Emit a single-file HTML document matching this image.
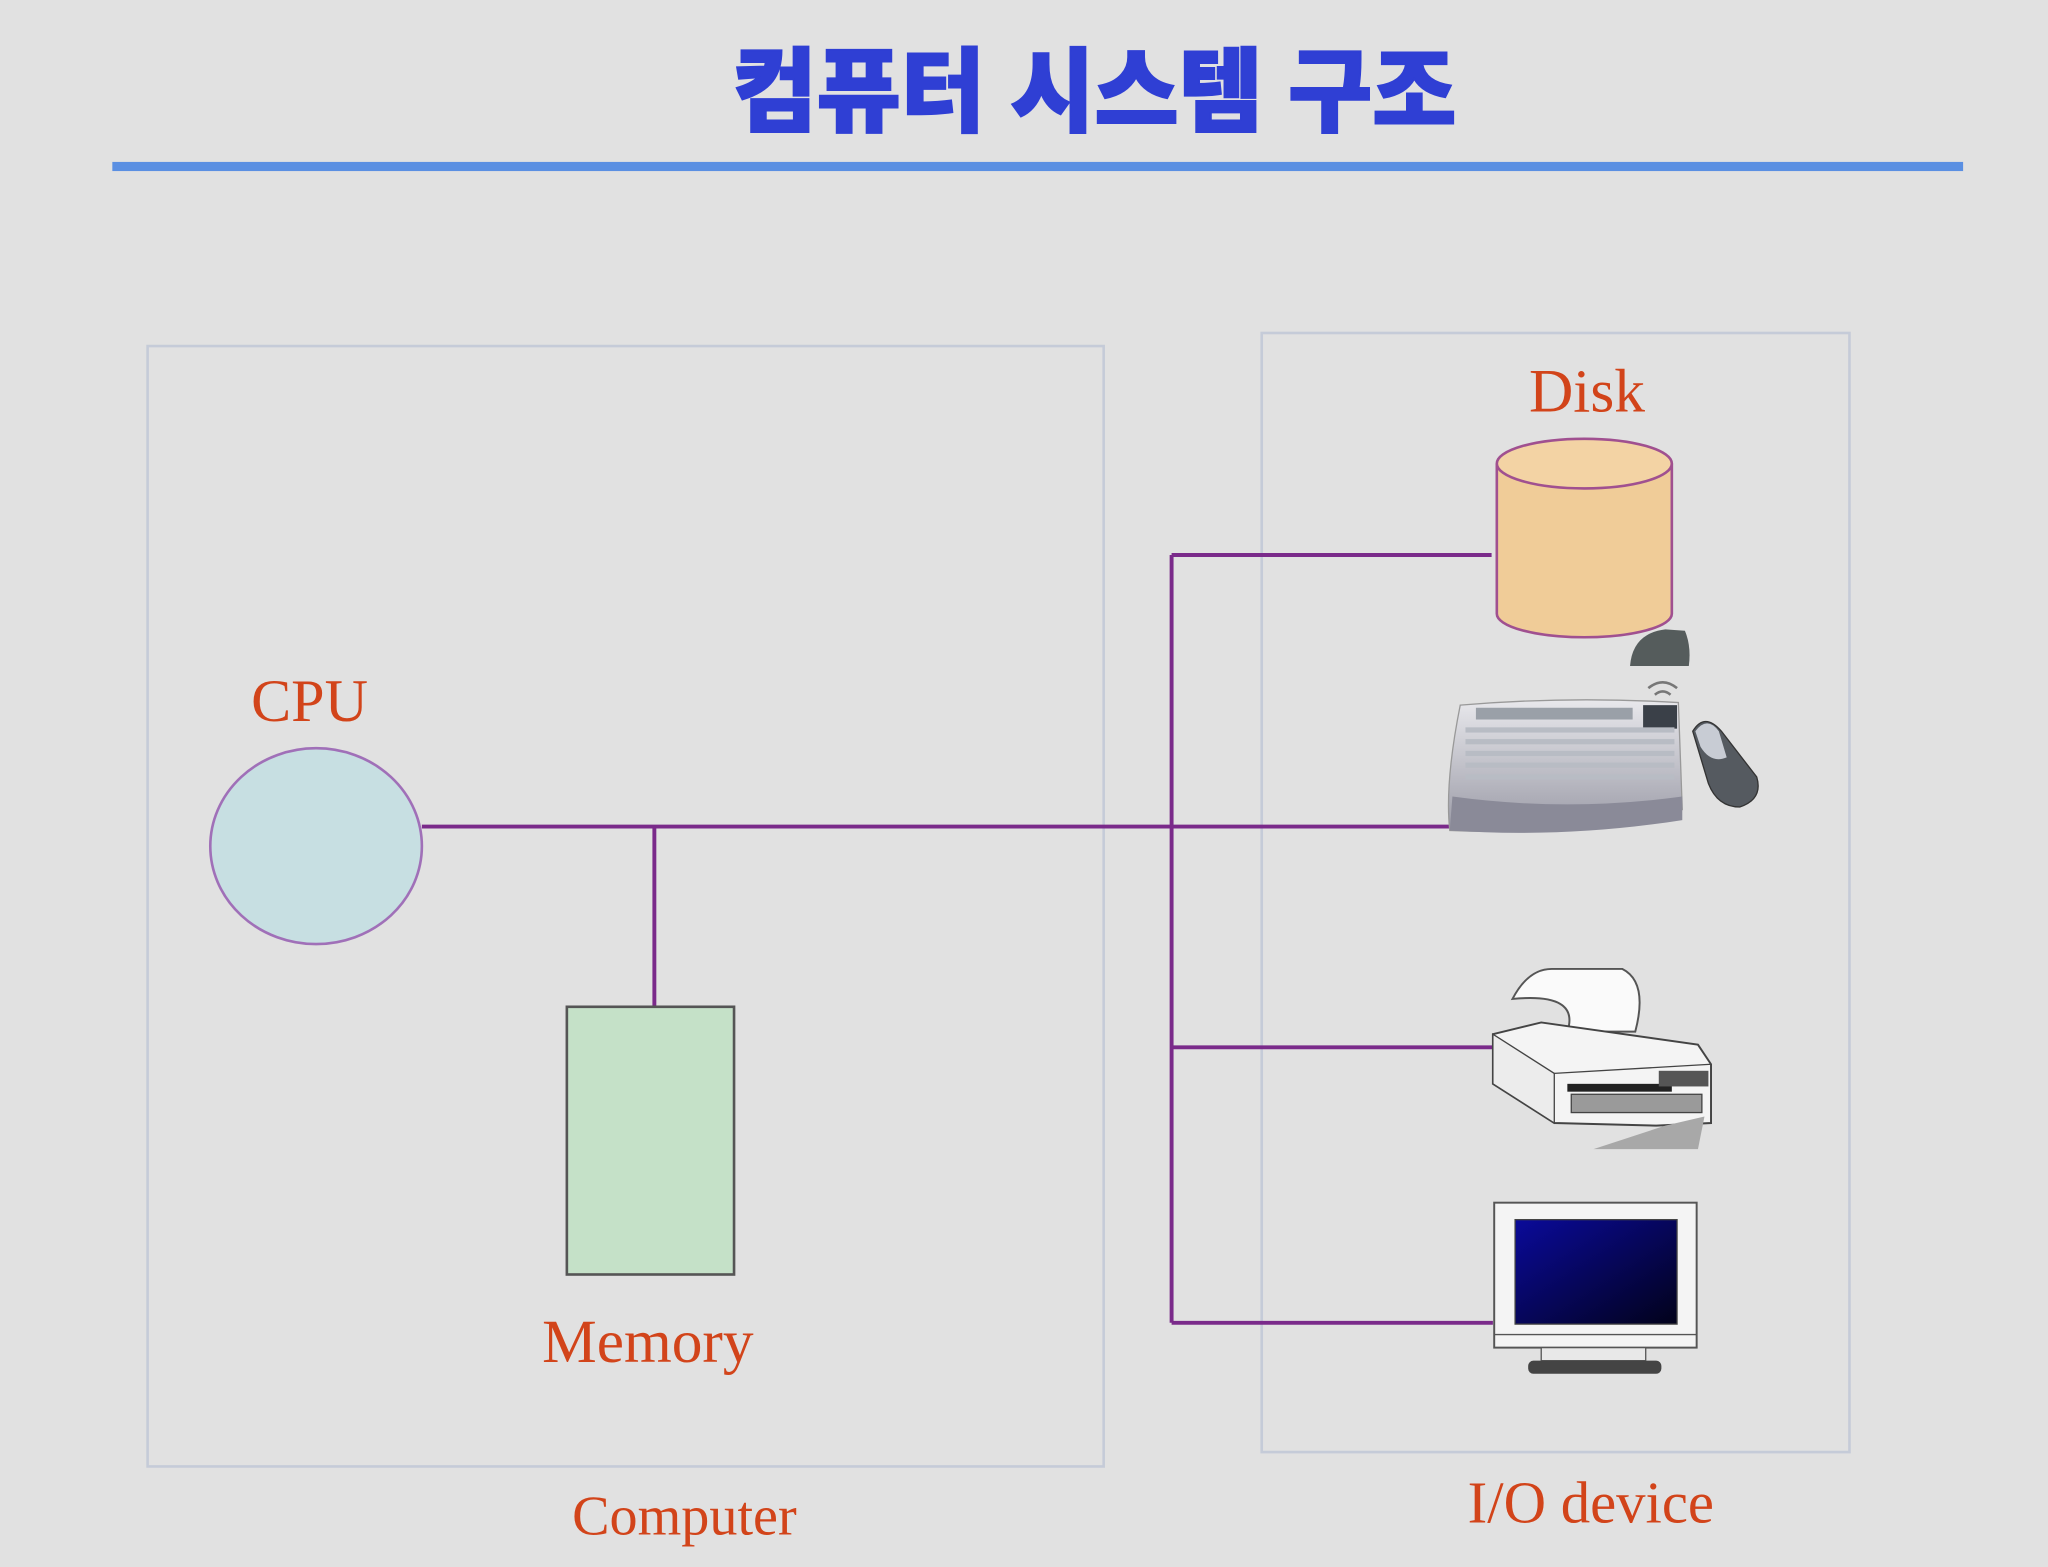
<!DOCTYPE html>
<html><head><meta charset="utf-8"><style>
html,body{margin:0;padding:0;background:#e1e1e1;}
svg{display:block;}
</style></head><body>
<svg width="2048" height="1567" viewBox="0 0 1568 1200" preserveAspectRatio="none" xmlns="http://www.w3.org/2000/svg">
<defs>
<linearGradient id="scr" x1="0" y1="0" x2="1" y2="1"><stop offset="0" stop-color="#0a0a9a"/><stop offset="1" stop-color="#02021a"/></linearGradient>
<linearGradient id="kb" x1="0" y1="0" x2="0" y2="1"><stop offset="0" stop-color="#e8e8ec"/><stop offset="1" stop-color="#9a9aa6"/></linearGradient>
</defs>
<rect width="1568" height="1200" fill="#e1e1e1"/>
<text x="838" y="95" text-anchor="middle" font-family="'Liberation Sans','Noto Sans CJK KR','NanumGothic',sans-serif" font-weight="900" font-size="70" fill="#2f3fd4" stroke="#2f3fd4" stroke-width="1.5">컴퓨터 시스템 구조</text>
<rect x="86" y="124" width="1417" height="7" fill="#5a8fe2"/>
<rect x="113" y="265" width="732" height="858" fill="none" stroke="#c5cbd8" stroke-width="2"/>
<rect x="966" y="255" width="450" height="857" fill="none" stroke="#c5cbd8" stroke-width="2"/>
<g font-family="'Liberation Serif',serif" fill="#d2441a">
<text x="237" y="552" text-anchor="middle" font-size="46">CPU</text>
<text x="496" y="1043" text-anchor="middle" font-size="47">Memory</text>
<text x="524" y="1175" text-anchor="middle" font-size="43">Computer</text>
<text x="1215" y="315" text-anchor="middle" font-size="47">Disk</text>
<text x="1218" y="1166" text-anchor="middle" font-size="45">I/O device</text>
</g>
<g stroke="#7a2a8a" stroke-width="3" fill="none">
<line x1="323" y1="633" x2="1115" y2="633"/>
<line x1="501" y1="633" x2="501" y2="771"/>
<line x1="897" y1="425" x2="897" y2="1013"/>
<line x1="897" y1="425" x2="1142" y2="425"/>
<line x1="897" y1="802" x2="1143" y2="802"/>
<line x1="897" y1="1013" x2="1143" y2="1013"/>
</g>
<ellipse cx="242" cy="648" rx="81" ry="75" fill="#c7dfe2" stroke="#a070b8" stroke-width="2"/>
<rect x="434" y="771" width="128" height="205" fill="#c5e1c8" stroke="#555" stroke-width="2"/>
<path d="M1146 355 L1146 470 A67 18 0 0 0 1280 470 L1280 355" fill="#f0cc98" stroke="#a05090" stroke-width="2"/>
<ellipse cx="1213" cy="355" rx="67" ry="19" fill="#f3d3a4" stroke="#a05090" stroke-width="2"/>
<path d="M1248 510 Q1250 485 1275 482 L1290 483 Q1295 495 1293 510 Z" fill="#555c5c"/>
<path d="M1262 527 Q1273 518 1284 527 M1267 532 Q1273 527 1279 532" stroke="#777" fill="none" stroke-width="2"/>
<path d="M1118 540 Q1200 533 1285 538 L1288 620 Q1200 640 1110 636 Q1106 600 1118 540 Z" fill="url(#kb)" stroke="#999"/>
<rect x="1130" y="542" width="120" height="9" fill="#9aa0a8"/>
<rect x="1258" y="540" width="26" height="18" fill="#3a4048"/>
<g fill="#b8bcc4"><rect x="1122" y="557" width="160" height="4"/><rect x="1122" y="566" width="160" height="4"/><rect x="1122" y="575" width="160" height="4"/><rect x="1122" y="584" width="160" height="4"/><rect x="1122" y="593" width="160" height="4"/></g>
<path d="M1112 610 Q1200 622 1288 610 L1288 628 Q1200 642 1110 636 Z" fill="#8a8a98"/>
<path d="M1296 560 Q1305 545 1318 560 L1345 595 Q1350 612 1332 618 Q1315 618 1308 600 Z" fill="#555a60" stroke="#333"/>
<path d="M1298 560 Q1307 548 1316 560 L1322 580 Q1310 585 1302 572 Z" fill="#c8ccd4"/>
<path d="M1158 765 Q1170 742 1188 742 L1242 742 Q1262 752 1252 790 L1200 790 Q1210 760 1158 765 Z" fill="#fafafa" stroke="#555" stroke-width="1.5"/>
<path d="M1143 792 L1180 783 L1300 800 L1310 815 L1310 860 L1268 862 L1190 860 L1143 830 Z" fill="#f4f4f4" stroke="#444" stroke-width="1.5"/>
<path d="M1143 792 L1143 830 L1190 860 L1190 822 Z" fill="#ececec" stroke="#444"/>
<path d="M1190 822 L1310 815" stroke="#444"/>
<rect x="1200" y="830" width="80" height="6" fill="#222"/>
<rect x="1203" y="838" width="100" height="14" fill="#9a9a9a" stroke="#444"/>
<rect x="1270" y="820" width="38" height="12" fill="#555"/>
<path d="M1275 862 L1305 855 L1300 880 L1220 880 Z" fill="#a8a8a8"/>
<rect x="1144" y="921" width="155" height="111" fill="#f4f4f4" stroke="#555" stroke-width="1.5"/>
<rect x="1160" y="934" width="124" height="80" fill="url(#scr)" stroke="#444"/>
<line x1="1144" y1="1022" x2="1299" y2="1022" stroke="#555"/>
<rect x="1180" y="1032" width="80" height="10" fill="#e8e8e8" stroke="#555"/>
<rect x="1170" y="1042" width="102" height="10" rx="4" fill="#444"/>
</svg>
</body></html>
